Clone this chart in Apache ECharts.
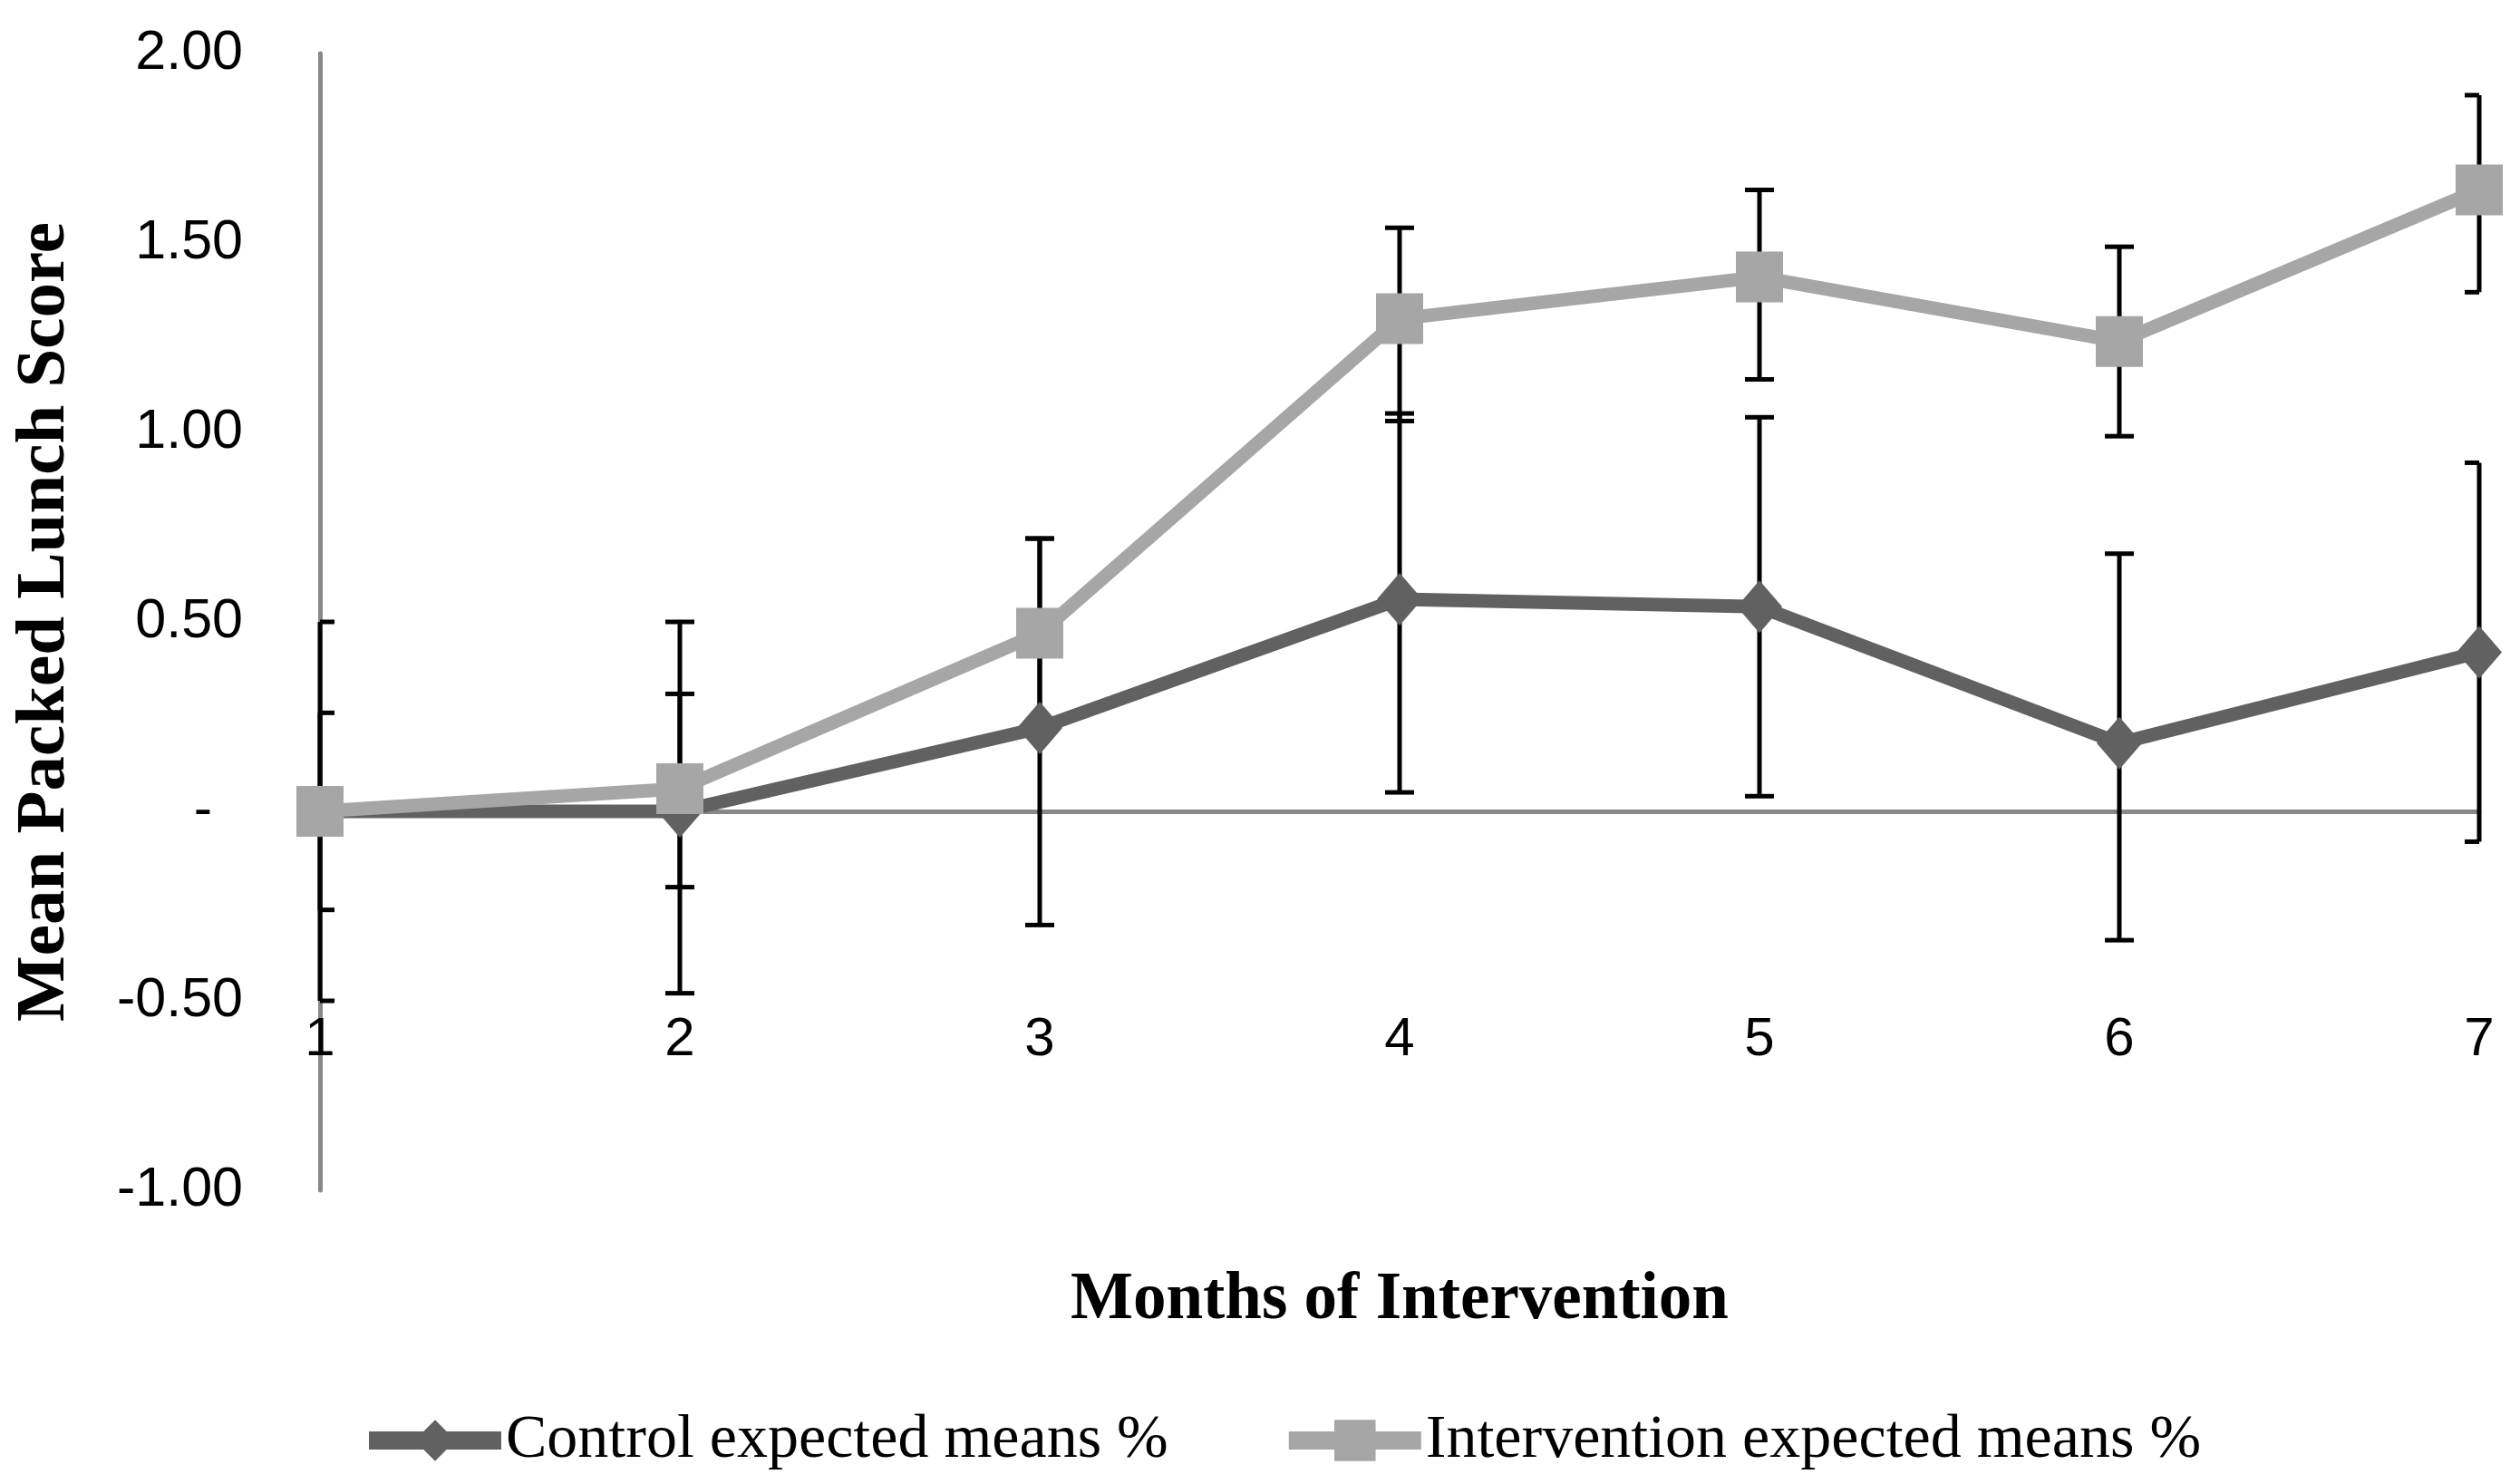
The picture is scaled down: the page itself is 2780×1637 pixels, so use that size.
<!DOCTYPE html>
<html>
<head>
<meta charset="utf-8">
<script src="https://cdn.jsdelivr.net/npm/echarts@6/dist/echarts.min.js"></script>
<style>
html,body{margin:0;padding:0;background:#fff;}
#chart{width:2780px;height:1637px;}
</style>
</head>
<body>
<div id="chart"></div>
<script>
// ---- data ----
const months = [1, 2, 3, 4, 5, 6, 7];
const controlMeans = [0.00, 0.00, 0.22, 0.56, 0.54, 0.18, 0.42];
const controlLow   = [-0.50, -0.48, -0.30, 0.05, 0.04, -0.34, -0.08];
const controlHigh  = [0.50, 0.50, 0.72, 1.05, 1.04, 0.68, 0.92];
const interventionMeans = [0.00, 0.06, 0.47, 1.30, 1.41, 1.24, 1.64];
const interventionLow   = [-0.26, -0.20, 0.22, 1.03, 1.14, 0.99, 1.37];
const interventionHigh  = [0.26, 0.31, 0.72, 1.54, 1.64, 1.49, 1.89];
const yTicks = [-1, -0.5, 0, 0.5, 1, 1.5, 2];
const seriesNames = ['Control expected means %', 'Intervention expected means %'];
const xTitle = 'Months of Intervention';
const yTitle = 'Mean Packed Lunch Score';

const chart = echarts.init(document.getElementById('chart'));

function pairs(xs, ys) { return xs.map((x, i) => [x, ys[i]]); }
function bars(xs, lo, hi) { return xs.map((x, i) => [x, lo[i], hi[i]]); }

function renderErr(params, api) {
  const x = api.value(0);
  const lo = api.coord([x, api.value(1)]);
  const hi = api.coord([x, api.value(2)]);
  const cs = params.coordSys;
  const half = 16;
  const l = Math.max(hi[0] - half, cs.x);
  const r = Math.min(hi[0] + half, cs.x + cs.width);
  const st = { stroke: '#000', lineWidth: 5 };
  return {
    type: 'group',
    children: [
      { type: 'line', shape: { x1: hi[0], y1: hi[1], x2: lo[0], y2: lo[1] }, style: st },
      { type: 'line', shape: { x1: l, y1: hi[1], x2: r, y2: hi[1] }, style: st },
      { type: 'line', shape: { x1: l, y1: lo[1], x2: r, y2: lo[1] }, style: st }
    ]
  };
}

const option = {
  backgroundColor: '#fff',
  animation: false,
  grid: { left: 353, right: 45, top: 59, bottom: 324, containLabel: false, outerBoundsMode: 'none' },
  xAxis: {
    type: 'value', min: 1, max: 7, interval: 1,
    name: xTitle, nameLocation: 'middle', nameGap: 86,
    nameTextStyle: { fontFamily: 'Liberation Serif', fontWeight: 'bold', fontSize: 73, color: '#000' },
    axisLine: { show: true, onZero: true, lineStyle: { color: '#888888', width: 5 } },
    axisTick: { show: false },
    splitLine: { show: false },
    axisLabel: { margin: -196, fontFamily: 'Liberation Sans', fontSize: 60, color: '#000' }
  },
  yAxis: {
    type: 'value', min: -1, max: 2, interval: 0.5,
    name: yTitle, nameLocation: 'middle', nameRotate: 90, nameGap: 264,
    nameTextStyle: { fontFamily: 'Liberation Serif', fontWeight: 'bold', fontSize: 77, color: '#000' },
    axisLine: { show: true, lineStyle: { color: '#888888', width: 5 } },
    axisTick: { show: false },
    splitLine: { show: false },
    axisLabel: {
      margin: 85, fontFamily: 'Liberation Sans', fontSize: 61, color: '#000',
      formatter: v => (Math.abs(v) < 1e-9 ? '-  ' : v.toFixed(2))
    }
  },
  legend: {
    data: seriesNames,
    left: 392, top: 1550,
    itemWidth: 146, itemHeight: 57, itemGap: 123,
    lineStyle: { width: 20 },
    textStyle: { fontFamily: 'Liberation Serif', fontSize: 68, color: '#000' }
  },
  series: [
    {
      type: 'custom', name: 'controlErr', renderItem: renderErr, z: 1,
      data: bars(months, controlLow, controlHigh), silent: true
    },
    {
      type: 'custom', name: 'interventionErr', renderItem: renderErr, z: 1,
      data: bars(months, interventionLow, interventionHigh), silent: true
    },
    {
      type: 'line', name: seriesNames[0], z: 3,
      data: pairs(months, controlMeans),
      symbol: 'diamond', symbolSize: [50, 58],
      lineStyle: { color: '#616161', width: 15 },
      itemStyle: { color: '#616161' }
    },
    {
      type: 'line', name: seriesNames[1], z: 4,
      data: pairs(months, interventionMeans),
      symbol: 'rect', symbolSize: [52, 56],
      lineStyle: { color: '#a6a6a6', width: 15 },
      itemStyle: { color: '#a6a6a6' }
    }
  ]
};
chart.setOption(option);
</script>
</body>
</html>
